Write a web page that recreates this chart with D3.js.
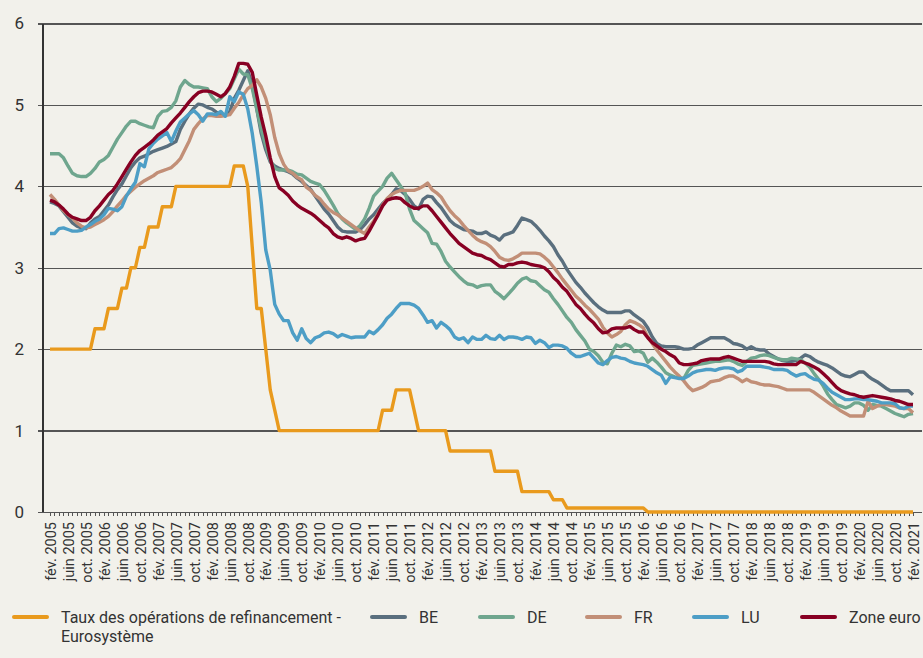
<!DOCTYPE html>
<html lang="fr">
<head>
	<meta charset="utf-8">
	<title>Taux d'intérêt</title>
	<script src="https://d3js.org/d3.v7.min.js"></script>
	<style type="text/css">
		body { margin: 0; background: #f2f1eb; }
		text { font-family: Roboto, "DejaVu Sans", sans-serif; fill: #333; }
		.grid line { stroke: #555; stroke-width: 1.2; shape-rendering: crispEdges; }
		.grid path { display: none; }
		.xaxis path { display: none; }
		.xaxis line { stroke: #555; shape-rendering: crispEdges; }
	</style>
</head>
<body>
<script type="text/javascript">

	// Mois : de février 2005 à février 2021
	var monthNames = ["janv.", "fév.", "mars", "avr.", "mai", "juin", "juil.", "août", "sept.", "oct.", "nov.", "déc."];
	var firstYear = 2005, firstMonth = 1, nMonths = 193;
	var yTicks = [0, 1, 2, 3, 4, 5, 6];

	var seriesNames = ["Taux des opérations de refinancement - Eurosystème", "BE", "DE", "FR", "LU", "Zone euro"];
	var seriesColors = ["#e99a1d", "#5a6f7e", "#6fa68e", "#c28f77", "#4d9ec6", "#880023"];

	var refi = [
		2.00,2.00,2.00,2.00,2.00,2.00,2.00,2.00,2.00,2.00,2.25,2.25,
		2.25,2.50,2.50,2.50,2.75,2.75,3.00,3.00,3.25,3.25,3.50,3.50,
		3.50,3.75,3.75,3.75,4.00,4.00,4.00,4.00,4.00,4.00,4.00,4.00,
		4.00,4.00,4.00,4.00,4.00,4.25,4.25,4.25,4.00,3.25,2.50,2.50,
		2.00,1.50,1.25,1.00,1.00,1.00,1.00,1.00,1.00,1.00,1.00,1.00,
		1.00,1.00,1.00,1.00,1.00,1.00,1.00,1.00,1.00,1.00,1.00,1.00,
		1.00,1.00,1.25,1.25,1.25,1.50,1.50,1.50,1.50,1.25,1.00,1.00,
		1.00,1.00,1.00,1.00,1.00,0.75,0.75,0.75,0.75,0.75,0.75,0.75,
		0.75,0.75,0.75,0.50,0.50,0.50,0.50,0.50,0.50,0.25,0.25,0.25,
		0.25,0.25,0.25,0.25,0.15,0.15,0.15,0.05,0.05,0.05,0.05,0.05,
		0.05,0.05,0.05,0.05,0.05,0.05,0.05,0.05,0.05,0.05,0.05,0.05,
		0.05,0.00,0.00,0.00,0.00,0.00,0.00,0.00,0.00,0.00,0.00,0.00,
		0,0,0,0,0,0,0,0,0,0,0,0,
		0,0,0,0,0,0,0,0,0,0,0,0,
		0,0,0,0,0,0,0,0,0,0,0,0,
		0,0,0,0,0,0,0,0,0,0,0,0,
		0
	];

	var be = [
		3.81,3.79,3.76,3.69,3.62,3.55,3.51,3.49,3.48,3.55,3.60,3.63,
		3.70,3.77,3.87,3.96,4.03,4.13,4.23,4.30,4.35,4.37,4.40,4.43,
		4.45,4.47,4.49,4.52,4.55,4.70,4.80,4.89,4.96,5.01,5.00,4.97,
		4.95,4.91,4.89,4.87,4.92,5.08,5.18,5.30,5.42,5.25,4.95,4.65,
		4.45,4.30,4.25,4.22,4.20,4.18,4.15,4.10,4.06,4.01,3.96,3.88,
		3.80,3.72,3.66,3.58,3.50,3.45,3.44,3.44,3.44,3.47,3.53,3.60,
		3.65,3.72,3.79,3.84,3.90,3.97,3.95,3.90,3.84,3.76,3.72,3.84,
		3.88,3.87,3.80,3.74,3.66,3.58,3.53,3.50,3.47,3.46,3.45,3.42,
		3.42,3.44,3.40,3.38,3.34,3.40,3.42,3.44,3.52,3.61,3.59,3.57,
		3.52,3.46,3.39,3.33,3.26,3.16,3.08,2.98,2.90,2.82,2.76,2.69,
		2.63,2.57,2.52,2.48,2.45,2.45,2.45,2.45,2.47,2.47,2.42,2.38,
		2.34,2.26,2.15,2.07,2.04,2.03,2.03,2.03,2.02,2.00,2.00,2.01,
		2.05,2.08,2.11,2.14,2.14,2.14,2.14,2.11,2.07,2.06,2.04,2.00,
		2.03,2.00,1.99,1.99,1.94,1.91,1.88,1.86,1.85,1.85,1.86,1.89,
		1.93,1.91,1.87,1.84,1.82,1.80,1.77,1.73,1.69,1.67,1.66,1.69,
		1.72,1.72,1.67,1.63,1.60,1.56,1.52,1.49,1.49,1.49,1.49,1.49,
		1.44
	];

	var de = [
		4.40,4.40,4.40,4.35,4.25,4.16,4.13,4.12,4.12,4.16,4.22,4.30,
		4.33,4.38,4.48,4.58,4.66,4.74,4.80,4.80,4.77,4.75,4.73,4.72,
		4.86,4.92,4.93,4.97,5.05,5.22,5.30,5.25,5.22,5.22,5.21,5.20,
		5.10,5.04,5.08,5.14,5.20,5.32,5.44,5.38,5.37,5.20,4.95,4.70,
		4.50,4.32,4.22,4.20,4.20,4.20,4.18,4.15,4.14,4.10,4.06,4.04,
		4.02,3.95,3.86,3.77,3.67,3.60,3.55,3.51,3.47,3.52,3.60,3.73,
		3.88,3.94,4.00,4.10,4.16,4.08,4.00,3.92,3.72,3.58,3.53,3.48,
		3.43,3.30,3.29,3.20,3.08,3.01,2.95,2.89,2.84,2.80,2.79,2.76,
		2.78,2.79,2.79,2.71,2.67,2.62,2.68,2.74,2.81,2.86,2.88,2.84,
		2.83,2.78,2.73,2.70,2.62,2.55,2.47,2.39,2.33,2.24,2.17,2.10,
		2.00,1.97,1.92,1.84,1.82,1.95,2.05,2.03,2.06,2.04,1.97,1.98,
		1.95,1.84,1.89,1.84,1.78,1.71,1.68,1.66,1.65,1.64,1.74,1.80,
		1.81,1.82,1.83,1.84,1.85,1.85,1.86,1.87,1.85,1.82,1.80,1.85,
		1.89,1.90,1.92,1.93,1.92,1.90,1.88,1.87,1.87,1.89,1.88,1.87,
		1.83,1.78,1.70,1.63,1.55,1.45,1.38,1.32,1.30,1.28,1.30,1.34,
		1.34,1.31,1.25,1.32,1.31,1.30,1.27,1.24,1.21,1.19,1.17,1.20,
		1.21
	];

	var fr = [
		3.90,3.84,3.77,3.70,3.65,3.61,3.55,3.51,3.49,3.50,3.53,3.56,
		3.59,3.63,3.69,3.76,3.82,3.89,3.94,3.99,4.03,4.07,4.10,4.13,
		4.17,4.19,4.21,4.23,4.28,4.34,4.45,4.56,4.70,4.77,4.83,4.87,
		4.87,4.86,4.86,4.87,4.88,4.96,5.03,5.12,5.20,5.24,5.31,5.22,
		5.08,4.88,4.60,4.40,4.27,4.19,4.16,4.11,4.08,3.99,3.95,3.89,
		3.85,3.78,3.72,3.68,3.65,3.61,3.57,3.53,3.49,3.45,3.42,3.50,
		3.57,3.67,3.77,3.85,3.90,3.93,3.95,3.95,3.95,3.95,3.97,4.00,
		4.04,3.96,3.92,3.87,3.78,3.70,3.64,3.59,3.52,3.46,3.40,3.35,
		3.32,3.30,3.26,3.20,3.13,3.10,3.09,3.11,3.14,3.18,3.18,3.18,
		3.18,3.17,3.13,3.08,3.01,2.94,2.86,2.79,2.72,2.65,2.60,2.54,
		2.49,2.43,2.37,2.27,2.20,2.15,2.18,2.22,2.30,2.35,2.33,2.30,
		2.26,2.15,2.07,1.99,1.92,1.85,1.78,1.72,1.67,1.61,1.54,1.49,
		1.51,1.53,1.56,1.60,1.61,1.62,1.65,1.67,1.67,1.64,1.60,1.63,
		1.60,1.59,1.57,1.56,1.56,1.55,1.54,1.52,1.50,1.50,1.50,1.50,
		1.50,1.50,1.47,1.43,1.39,1.35,1.31,1.28,1.24,1.21,1.18,1.18,
		1.18,1.18,1.36,1.27,1.30,1.32,1.32,1.31,1.30,1.28,1.27,1.27,
		1.22
	];

	var lu = [
		3.42,3.42,3.48,3.49,3.47,3.45,3.45,3.46,3.50,3.53,3.57,3.60,
		3.65,3.73,3.72,3.70,3.75,3.88,3.97,4.05,4.28,4.24,4.46,4.53,
		4.58,4.62,4.66,4.55,4.68,4.79,4.84,4.89,4.93,4.88,4.80,4.89,
		4.89,4.88,4.92,4.86,5.10,5.04,5.16,5.13,4.95,4.65,4.25,3.80,
		3.22,2.97,2.55,2.43,2.35,2.35,2.20,2.11,2.25,2.13,2.08,2.14,
		2.16,2.20,2.21,2.19,2.15,2.18,2.16,2.14,2.15,2.15,2.15,2.22,
		2.19,2.24,2.30,2.38,2.43,2.50,2.56,2.56,2.56,2.54,2.50,2.42,
		2.33,2.35,2.26,2.33,2.29,2.24,2.15,2.12,2.14,2.08,2.15,2.12,
		2.12,2.17,2.13,2.12,2.17,2.12,2.15,2.15,2.14,2.12,2.15,2.14,
		2.07,2.11,2.08,2.02,2.05,2.05,2.04,2.01,1.95,1.91,1.91,1.93,
		1.95,1.89,1.83,1.81,1.86,1.90,1.91,1.89,1.88,1.85,1.83,1.82,
		1.81,1.79,1.75,1.71,1.68,1.58,1.66,1.65,1.64,1.64,1.67,1.71,
		1.73,1.74,1.75,1.75,1.74,1.76,1.77,1.77,1.76,1.72,1.74,1.79,
		1.79,1.79,1.79,1.78,1.77,1.75,1.75,1.75,1.74,1.70,1.67,1.69,
		1.70,1.66,1.63,1.62,1.58,1.52,1.47,1.44,1.41,1.38,1.38,1.39,
		1.39,1.38,1.38,1.37,1.36,1.34,1.34,1.34,1.33,1.28,1.27,1.30,
		1.30
	];

	var ze = [
		3.83,3.81,3.77,3.72,3.66,3.62,3.60,3.58,3.58,3.62,3.70,3.76,
		3.83,3.90,3.95,4.03,4.12,4.21,4.30,4.38,4.44,4.48,4.52,4.57,
		4.63,4.67,4.71,4.78,4.84,4.90,4.97,5.04,5.10,5.15,5.17,5.17,
		5.16,5.13,5.10,5.14,5.22,5.35,5.51,5.51,5.50,5.40,5.12,4.85,
		4.62,4.35,4.12,3.98,3.94,3.89,3.82,3.77,3.73,3.70,3.67,3.63,
		3.58,3.53,3.49,3.42,3.38,3.36,3.38,3.36,3.33,3.35,3.36,3.45,
		3.55,3.65,3.76,3.83,3.85,3.86,3.85,3.80,3.76,3.73,3.73,3.76,
		3.76,3.70,3.63,3.56,3.49,3.42,3.36,3.30,3.26,3.22,3.18,3.16,
		3.15,3.12,3.10,3.06,3.02,3.01,3.04,3.04,3.06,3.07,3.06,3.04,
		3.03,3.02,3.00,2.95,2.88,2.83,2.76,2.71,2.63,2.55,2.50,2.43,
		2.37,2.32,2.25,2.20,2.21,2.25,2.26,2.26,2.26,2.28,2.24,2.21,
		2.21,2.14,2.08,2.04,2.00,1.97,1.93,1.90,1.83,1.81,1.81,1.82,
		1.83,1.86,1.87,1.88,1.88,1.88,1.90,1.91,1.89,1.87,1.85,1.85,
		1.85,1.85,1.85,1.85,1.84,1.82,1.81,1.81,1.81,1.81,1.81,1.85,
		1.83,1.81,1.78,1.75,1.70,1.65,1.59,1.53,1.49,1.47,1.45,1.44,
		1.42,1.41,1.42,1.43,1.42,1.41,1.40,1.39,1.37,1.36,1.34,1.32,
		1.32
	];

	var seriesValues = [refi, be, de, fr, lu, ze];

	// Libellés des mois
	var months = d3.range(nMonths).map(function(i) {
		var m = (firstMonth + i) % 12;
		var yr = firstYear + Math.floor((firstMonth + i) / 12);
		return monthNames[m] + " " + yr;
	});

	var width = 923, height = 658;
	var plotLeft = 43, plotRight = 922, gridLeft = 38;

	var svg = d3.select("body")
		.append("svg")
		.attr("width", width)
		.attr("height", height);

	svg.append("rect")
		.attr("width", width)
		.attr("height", height)
		.attr("fill", "#f2f1eb");

	var x = d3.scalePoint()
		.domain(months)
		.range([50, 913]);

	var y = d3.scaleLinear()
		.domain([0, 6])
		.range([512, 23.5]);

	// Lignes horizontales et libellés de l'axe des y
	var grid = svg.append("g")
		.attr("class", "grid")
		.attr("transform", "translate(" + plotRight + ",0)")
		.call(d3.axisLeft(y)
			.tickValues(yTicks)
			.tickSize(plotRight - gridLeft)
			.tickPadding(14)
			.tickFormat(d3.format("d")));

	grid.selectAll("text")
		.style("font-size", "17px");

	// Axe vertical
	svg.append("line")
		.attr("x1", plotLeft).attr("x2", plotLeft)
		.attr("y1", y(6)).attr("y2", y(0))
		.attr("stroke", "#333")
		.attr("stroke-width", 1.2)
		.attr("shape-rendering", "crispEdges");

	// Axe des x : un trait par mois, un libellé tous les 4 mois
	var xAxis = svg.append("g")
		.attr("class", "xaxis")
		.attr("transform", "translate(0," + y(0) + ")")
		.call(d3.axisBottom(x)
			.tickSize(4)
			.tickFormat(function(d, i) { return i % 4 === 0 ? d : ""; }));

	xAxis.selectAll("text")
		.attr("transform", "rotate(-90)")
		.attr("text-anchor", "end")
		.attr("x", -10)
		.attr("y", 0)
		.attr("dy", "0.36em")
		.style("font-size", "14.5px");

	// Courbes
	var line = d3.line()
		.x(function(d, i) { return x(months[i]); })
		.y(function(d) { return y(d); });

	svg.selectAll("path.serie")
		.data(seriesValues)
		.enter()
		.append("path")
		.attr("class", "serie")
		.attr("d", line)
		.attr("fill", "none")
		.attr("stroke", function(d, i) { return seriesColors[i]; })
		.attr("stroke-width", 3.4)
		.attr("stroke-linejoin", "round");

	// Légende
	var legendX = [14, 372, 480, 587, 694, 802];
	var legend = svg.append("g")
		.attr("transform", "translate(0,617)");

	var items = legend.selectAll("g")
		.data(seriesNames)
		.enter()
		.append("g")
		.attr("transform", function(d, i) { return "translate(" + legendX[i] + ",0)"; });

	items.append("line")
		.attr("x1", 0).attr("x2", 33)
		.attr("stroke", function(d, i) { return seriesColors[i]; })
		.attr("stroke-width", 4)
		.attr("stroke-linecap", "round");

	items.append("text")
		.attr("x", 47)
		.attr("dy", "0.35em")
		.style("font-size", "16px")
		.each(function(d, i) {
			var t = d3.select(this);
			if (i === 0) {
				t.append("tspan").attr("x", 47).text("Taux des opérations de refinancement -");
				t.append("tspan").attr("x", 47).attr("dy", "1.2em").text("Eurosystème");
			} else {
				t.text(d);
			}
		});

</script>
</body>
</html>
